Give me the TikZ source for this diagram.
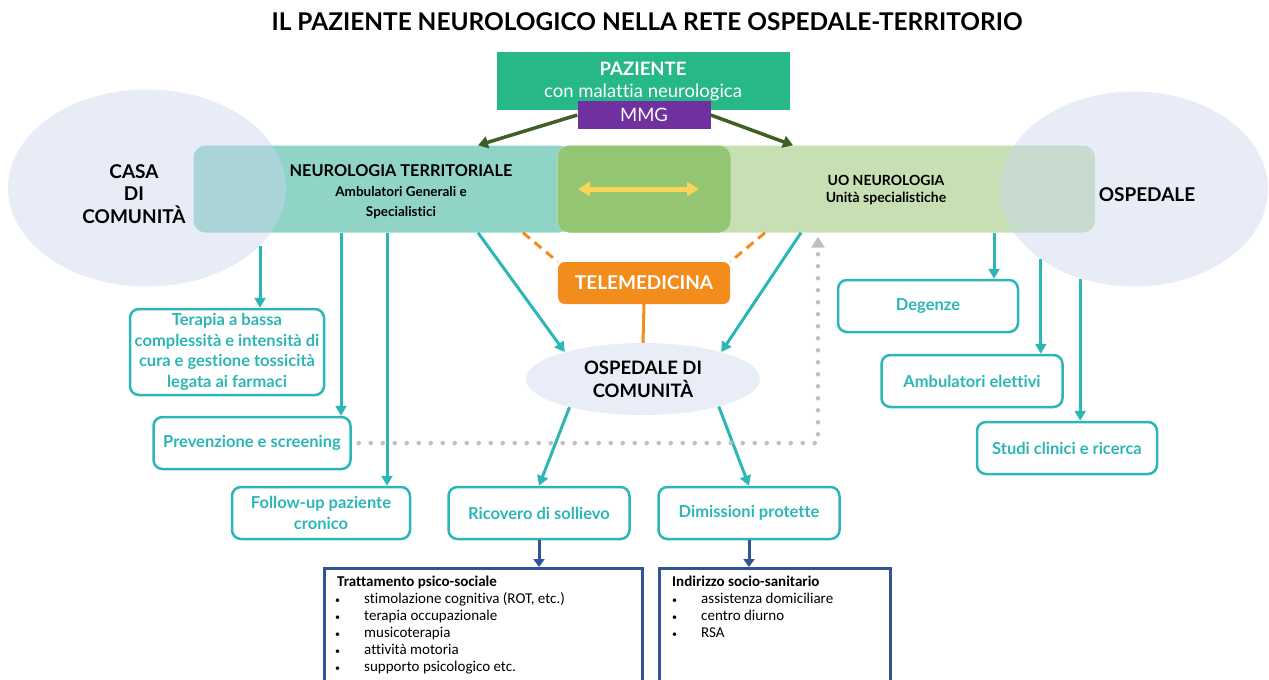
\documentclass[tikz,border=0pt]{standalone}
\usepackage{fontspec}
\setmainfont{Lato}[Ligatures=NoCommon]
\newfontfamily\carlito{Carlito}[Ligatures=NoCommon]
\usepackage{tikz}
\usetikzlibrary{shapes.geometric,arrows.meta,positioning,calc}

\definecolor{pazgreen}{HTML}{26B887}
\definecolor{mmgpurple}{HTML}{7030A0}
\definecolor{terrteal}{HTML}{8FD4C6}
\definecolor{midgreen}{HTML}{93C572}
\definecolor{uogreen}{HTML}{C6E0B4}
\definecolor{ellblue}{HTML}{C9D5EE}
\definecolor{odcblue}{HTML}{E8EDF7}
\definecolor{tealc}{HTML}{2DB6B6}
\definecolor{teleorange}{HTML}{F28C1C}
\definecolor{arrowgreen}{HTML}{3E5F28}
\definecolor{listblue}{HTML}{2F5597}
\definecolor{dotgrey}{HTML}{BFBFBF}
\definecolor{swapyellow}{HTML}{FAD45A}

\newcommand{\blt}{\makebox[29pt][l]{\fontsize{10}{10}\selectfont\textbullet}}

\begin{document}
\begin{tikzpicture}[x=1pt, y=-1pt,
    band/.style={rectangle, rounded corners=12pt, minimum height=87pt, inner sep=0pt},
    cloud/.style={ellipse, fill=ellblue, fill opacity=0.45, inner sep=0pt},
    tbox/.style={rectangle, draw=tealc, line width=2.5pt, rounded corners=9pt, fill=white, text=tealc, font=\fontsize{16.5}{20.5}\selectfont\bfseries, align=center, minimum height=52pt, inner sep=2pt},
    listbox/.style={rectangle, draw=listblue, line width=3pt, minimum height=125pt},
    listtext/.style={font=\carlito\fontsize{15}{17}\selectfont, align=left, inner sep=0pt},
    arrow/.style={-{Triangle[width=11pt,length=10pt]}, line width=3pt, draw=tealc},
    bluearrow/.style={-{Triangle[width=11pt,length=8pt]}, line width=3pt, draw=listblue},
    greenarrow/.style={-{Triangle[width=12pt,length=10pt]}, line width=3.5pt, draw=arrowgreen},
    teledash/.style={line width=3pt, draw=teleorange, dash pattern=on 9pt off 6pt},
    lbl/.style={font=\fontsize{19}{22.5}\selectfont\bfseries, align=center}]

    \useasboundingbox (0,0) rectangle (1269,680);

    % Title
    \node[font=\fontsize{24.4}{28}\selectfont\bfseries] (title) at (647,22) {IL PAZIENTE NEUROLOGICO NELLA RETE OSPEDALE-TERRITORIO};

    % Bands
    \node[band, fill=terrteal, minimum width=377pt] (terr) at (382,189) {};
    \node[band, fill=uogreen, minimum width=538pt] (uo) at (826,189) {};
    \node[band, fill=midgreen, minimum width=173pt] (mid) at (644,189) {};

    % Casa / Ospedale
    \node[cloud, minimum width=278pt, minimum height=197pt] (casa) at (147,188) {};
    \node[cloud, minimum width=268pt, minimum height=195pt] (ospedale) at (1134,189) {};
    \node[lbl] (casatxt) at (134,194) {CASA\\DI\\COMUNITÀ};
    \node[lbl] (ospedaletxt) at (1147,195) {OSPEDALE};
    \node[align=center, font=\fontsize{13.5}{20}\selectfont\bfseries] (terrtxt) at (401,192) {{\fontsize{16.3}{20}\selectfont NEUROLOGIA TERRITORIALE}\\Ambulatori Generali e\\Specialistici};
    \node[align=center, font=\fontsize{14}{16.5}\selectfont\bfseries] (uotxt) at (886,190) {UO NEUROLOGIA\\Unità specialistiche};

    % Paziente / MMG
    \node[rectangle, fill=pazgreen, text=white, minimum width=293pt, minimum height=58pt, align=center, font=\fontsize{18.5}{22}\selectfont] (paziente) at (643,81) {\textbf{PAZIENTE}\\con malattia neurologica};
    \node[rectangle, fill=mmgpurple, text=white, minimum width=133pt, minimum height=28pt, font=\fontsize{18.5}{20}\selectfont] (mmg) at (644,115) {MMG};

    % Telemedicina / Ospedale di comunita
    \node[rectangle, rounded corners=7pt, fill=teleorange, text=white, minimum width=172pt, minimum height=42pt, font=\fontsize{19}{20}\selectfont\bfseries] (tele) at (644,283) {TELEMEDICINA};
    \node[ellipse, fill=odcblue, minimum width=234pt, minimum height=72pt, align=center, font=\fontsize{18.5}{23}\selectfont\bfseries] (odc) at (643,379) {OSPEDALE DI\\COMUNITÀ};

    % Boxes
    \node[tbox, minimum width=194pt, minimum height=86pt] (terapia) at (227,352) {Terapia a bassa\\complessità e intensità di\\cura e gestione tossicità\\legata ai farmaci};
    \node[tbox, minimum width=197pt] (prev) at (252,443) {Prevenzione e screening};
    \node[tbox, minimum width=178pt] (followup) at (321,513) {Follow-up paziente\\cronico};
    \node[tbox, minimum width=181pt] (ricovero) at (539,513) {Ricovero di sollievo};
    \node[tbox, minimum width=181pt] (dimissioni) at (749,513) {Dimissioni protette};
    \node[tbox, minimum width=180pt] (degenze) at (928,306) {Degenze};
    \node[tbox, minimum width=181pt] (ambel) at (972,381) {Ambulatori elettivi};
    \node[tbox, minimum width=180pt] (studi) at (1067,448) {Studi clinici e ricerca};

    % Lists
    \node[listbox, minimum width=318pt, anchor=north west] (psico) at (323,567) {};
    \node[listbox, minimum width=231pt, anchor=north west] (socio) at (658,567) {};
    \node[listtext, anchor=north west] (psicotxt) at (335,576) {\hspace{2pt}\textbf{Trattamento psico-sociale}\\
        \blt stimolazione cognitiva (ROT, etc.)\\
        \blt terapia occupazionale\\
        \blt musicoterapia\\
        \blt attività motoria\\
        \blt supporto psicologico etc.};
    \node[listtext, anchor=north west] (sociotxt) at (672,576) {\textbf{Indirizzo socio-sanitario}\\
        \blt assistenza domiciliare\\
        \blt centro diurno\\
        \blt RSA};

    % Arrows
    \draw[greenarrow] (mmg.west) -- ([xshift=96pt]terr.north);
    \draw[greenarrow] (mmg.east) -- ([xshift=-33pt]uo.north);
    \coordinate (yl) at ([xshift=-66pt]mid.center);
    \coordinate (yr) at ([xshift=55pt]mid.center);
    \draw[{Triangle[width=14pt,length=12pt]}-{Triangle[width=14pt,length=12pt]}, line width=5pt, draw=swapyellow] (yl) -- (yr);

    \draw[arrow] (casa.333) -- (casa.333 |- terapia.north);
    \draw[arrow] ([xshift=-41pt]terr.south) -- ([xshift=-41pt]terr.south |- prev.north);
    \draw[arrow] ([xshift=5pt]terr.south) -- ([xshift=5pt]terr.south |- followup.north);
    \draw[arrow] ([xshift=96pt]terr.south) -- (odc.161);
    \draw[arrow] ([xshift=-25pt]uo.south) -- (odc.19);
    \draw[arrow] (odc.201) -- (ricovero.north);
    \draw[arrow] (odc.340) -- (dimissioni.north);
    \draw[arrow] ([xshift=168pt]uo.south) -- ([xshift=168pt]uo.south |- degenze.north);
    \draw[arrow] (ospedale.217) -- (ospedale.217 |- ambel.north);
    \draw[arrow] (ospedale.239) -- (ospedale.239 |- studi.north);

    \draw[teledash] ([xshift=141pt]terr.south) -- (tele.north west);
    \draw[teledash] ([xshift=-61pt]uo.south) -- (tele.north east);
    \draw[line width=3pt, draw=teleorange] (tele.south) -- (odc.north);

    \draw[dotgrey, line width=4.5pt, line cap=round, dash pattern=on 0pt off 12pt, -{Triangle[width=13pt,length=11pt]}] ([xshift=7pt]prev.east) -| ([xshift=-8pt,yshift=-4pt]uo.south);

    \draw[bluearrow] (ricovero.south) -- (ricovero.south |- psico.north);
    \draw[bluearrow] (dimissioni.south) -- (dimissioni.south |- socio.north);

\end{tikzpicture}
\end{document}
